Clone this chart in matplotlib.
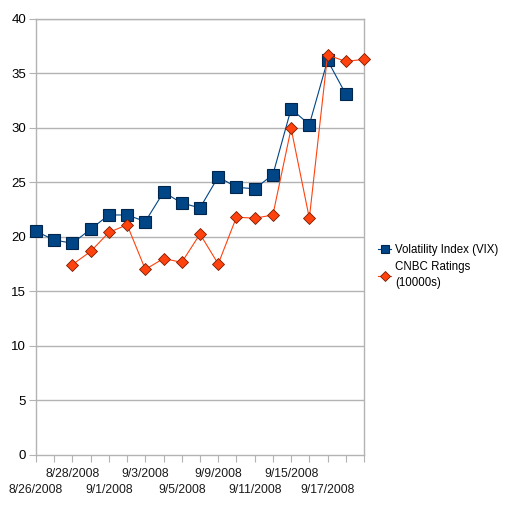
import matplotlib
matplotlib.use("Agg")
import matplotlib.pyplot as plt
import matplotlib.transforms as mtransforms
import numpy as np

plt.rcParams['font.family'] = ['Liberation Sans', 'DejaVu Sans']

dates = ["8/26/2008", "8/27/2008", "8/28/2008", "8/29/2008", "9/1/2008", "9/2/2008",
         "9/3/2008", "9/4/2008", "9/5/2008", "9/8/2008", "9/9/2008", "9/10/2008",
         "9/11/2008", "9/12/2008", "9/15/2008", "9/16/2008", "9/17/2008", "9/18/2008",
         "9/19/2008"]
shown_labels = ["8/26/2008", "8/28/2008", "9/1/2008", "9/3/2008", "9/5/2008",
                "9/9/2008", "9/11/2008", "9/15/2008", "9/17/2008"]
vix = [20.5, 19.7, 19.4, 20.7, 22.0, 22.0, 21.4, 24.1, 23.1, 22.65, 25.5, 24.55,
       24.4, 25.7, 31.75, 30.3, 36.2, 33.1, None]
cnbc = [None, None, 17.45, 18.65, 20.4, 21.1, 17.0, 18.0, 17.65, 20.25, 17.5, 21.8,
        21.7, 22.0, 29.95, 21.7, 36.7, 36.1, 36.3]

vix_arr = np.array([np.nan if v is None else v for v in vix])
cnbc_arr = np.array([np.nan if v is None else v for v in cnbc])
x = np.arange(len(dates))

fig = plt.figure(figsize=(5.15, 5.22), dpi=100)
ax = fig.add_axes([36/515, 67.5/522, 328/515, 435.5/522])

grid_c = '#b3b3b3'
for yv in range(5, 41, 5):
    ax.axhline(yv, color=grid_c, lw=1.0, zorder=0)

ax.plot(x, vix_arr, color='#004586', lw=0.8, marker='s', markersize=8,
        markerfacecolor='#004586', markeredgecolor='#00264d', markeredgewidth=0.8,
        label='Volatility Index (VIX)', zorder=3, clip_on=False)
ax.plot(x, cnbc_arr, color='#ff420e', lw=0.8, marker='D', markersize=6.5,
        markerfacecolor='#ff420e', markeredgecolor='#7a1c00', markeredgewidth=0.6,
        label='CNBC Ratings\n(10000s)', zorder=4, clip_on=False)

ax.set_xlim(0, len(dates) - 1)
ax.set_ylim(0, 40)
ax.set_yticks(range(0, 41, 5))
ax.set_xticks(x)
ax.set_xticklabels([])
ax.tick_params(axis='y', labelsize=9.5, length=5, color=grid_c, pad=2)
ax.tick_params(axis='x', length=5, color=grid_c, pad=1)
for s in ax.spines.values():
    s.set_color(grid_c)
    s.set_linewidth(1.0)

trans = mtransforms.blended_transform_factory(ax.transData, fig.transFigure)
for j, lab in enumerate(shown_labels):
    xi = dates.index(lab)
    ypix = 490 if j % 2 == 0 else 474
    ax.text(xi, 1 - ypix/522, lab, transform=trans, ha='center', va='center',
            fontsize=8.7, color='#1a1a1a')

leg = fig.legend(loc='upper left', bbox_to_anchor=(373/515, 1 - 239/522), frameon=False,
                 fontsize=8.3, handlelength=1.2, handletextpad=0.3, labelspacing=0.45,
                 borderaxespad=0, markerscale=0.75)
leg.get_texts()[1].set_linespacing(1.5)

fig.savefig('out.png', dpi=100)
